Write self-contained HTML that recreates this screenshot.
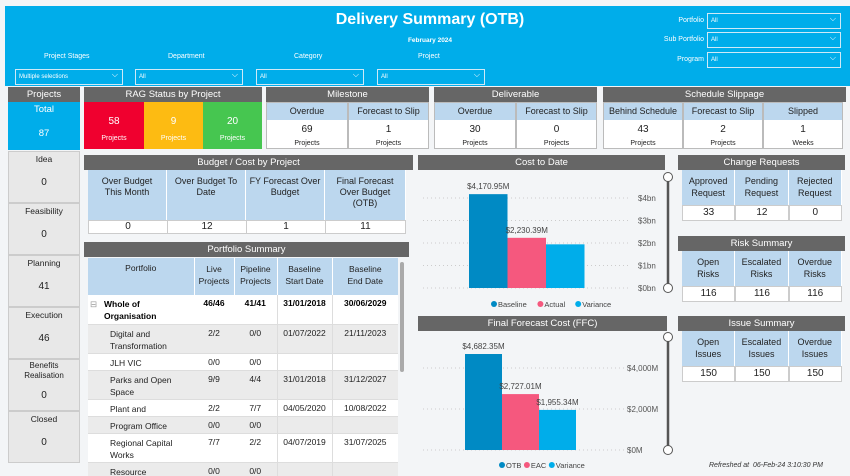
<!DOCTYPE html>
<html><head><meta charset="utf-8">
<style>
*{box-sizing:border-box;margin:0;padding:0}
body{width:850px;height:476px;background:#f3f5f7;font-family:"Liberation Sans",sans-serif;position:relative;overflow:hidden;color:#222}
.a{position:absolute}
.hd{position:absolute;background:#666;color:#fff;font-size:9.5px;text-align:center;line-height:15px}
.lb{background:#bcd7ee}
.cell{position:absolute;display:flex;align-items:center;justify-content:center;text-align:center;font-size:8.5px;line-height:11px;border-right:1px solid #fff}
.val{position:absolute;background:#fff;text-align:center;font-size:10px;border:1px solid #ccc}
.dd{position:absolute;border:1px solid #cfe9f7;background:#00adea;color:#fff;font-size:6px;padding-left:3px;line-height:14px}
.dd:after{content:"⌵";position:absolute;right:4px;top:-2px;font-size:8px}
.wl{position:absolute;color:#fff;font-size:7px}
.stage{position:absolute;left:8px;width:72px;background:#e8e8e8;border:1px solid #ccc;text-align:center;font-size:8.5px}
table{border-collapse:collapse;table-layout:fixed}
#ptab td{overflow:hidden}
</style></head><body>
<div class="a" style="left:5px;top:6px;width:845px;height:80px;background:#00adea"></div>
<div class="a" style="left:230px;top:11px;width:400px;text-align:center;color:#fff;font-weight:bold;font-size:16px;font-family:'Liberation Sans Narrow','Liberation Sans',sans-serif">Delivery Summary (OTB)</div>
<div class="a" style="left:330px;top:37px;width:200px;text-align:center;color:#fff;font-weight:bold;font-size:6.5px">February 2024</div>

<div class="wl" style="left:44px;top:53px">Project Stages</div>
<div class="wl" style="left:168px;top:53px">Department</div>
<div class="wl" style="left:294px;top:53px">Category</div>
<div class="wl" style="left:418px;top:53px">Project</div>
<div class="dd" style="left:15px;top:69px;width:108px;height:16px">Multiple selections</div>
<div class="dd" style="left:135px;top:69px;width:108px;height:16px">All</div>
<div class="dd" style="left:256px;top:69px;width:108px;height:16px">All</div>
<div class="dd" style="left:377px;top:69px;width:108px;height:16px">All</div>

<div class="wl" style="left:640px;top:17px;width:64px;text-align:right">Portfolio</div>
<div class="wl" style="left:640px;top:36px;width:64px;text-align:right">Sub Portfolio</div>
<div class="wl" style="left:640px;top:56px;width:64px;text-align:right">Program</div>
<div class="dd" style="left:707px;top:13px;width:134px;height:16px">All</div>
<div class="dd" style="left:707px;top:32px;width:134px;height:16px">All</div>
<div class="dd" style="left:707px;top:52px;width:134px;height:16px">All</div>

<!-- projects column -->
<div class="hd" style="left:8px;top:87px;width:72px">Projects</div>
<div class="a" style="left:8px;top:102px;width:72px;height:48px;background:#00adea;color:#fff;text-align:center;font-size:9.5px"><div style="margin-top:2px">Total</div><div style="margin-top:13px">87</div></div>
<div class="stage" style="top:151px;height:52px"><div style="margin-top:2px">Idea</div><div style="margin-top:13px;font-size:10px">0</div></div>
<div class="stage" style="top:203px;height:52px"><div style="margin-top:2px">Feasibility</div><div style="margin-top:13px;font-size:10px">0</div></div>
<div class="stage" style="top:255px;height:52px"><div style="margin-top:2px">Planning</div><div style="margin-top:13px;font-size:10px">41</div></div>
<div class="stage" style="top:307px;height:52px"><div style="margin-top:2px">Execution</div><div style="margin-top:13px;font-size:10px">46</div></div>
<div class="stage" style="top:359px;height:52px;font-size:8px"><div style="margin-top:1px;line-height:10px">Benefits<br>Realisation</div><div style="margin-top:9px;font-size:10px">0</div></div>
<div class="stage" style="top:411px;height:52px"><div style="margin-top:2px">Closed</div><div style="margin-top:13px;font-size:10px">0</div></div>

<!-- RAG -->
<div class="hd" style="left:84px;top:87px;width:178px">RAG Status by Project</div>
<div class="a" style="left:84px;top:102px;width:60px;height:47px;background:#f0002f;color:#fff;text-align:center;font-size:10px"><div style="margin-top:14px">58</div><div style="font-size:7px;margin-top:8px">Projects</div></div>
<div class="a" style="left:144px;top:102px;width:59px;height:47px;background:#fdbb12;color:#fff;text-align:center;font-size:10px"><div style="margin-top:14px">9</div><div style="font-size:7px;margin-top:8px">Projects</div></div>
<div class="a" style="left:203px;top:102px;width:59px;height:47px;background:#46c650;color:#fff;text-align:center;font-size:10px"><div style="margin-top:14px">20</div><div style="font-size:7px;margin-top:8px">Projects</div></div>

<!-- KPI groups -->
<div class="hd" style="left:266px;top:87px;width:163px">Milestone</div>
<div class="hd" style="left:434px;top:87px;width:163px">Deliverable</div>
<div class="hd" style="left:603px;top:87px;width:243px">Schedule Slippage</div>
<div id="kpis"></div>

<!-- Budget -->
<div class="hd" style="left:84px;top:155px;width:329px">Budget / Cost by Project</div>
<div class="a lb" style="left:88px;top:170px;width:318px;height:50px"></div>
<div class="cell" style="left:88px;top:170px;width:79px;height:50px;align-items:flex-start;padding-top:6px;font-size:9px">Over Budget<br>This Month</div>
<div class="cell" style="left:167px;top:170px;width:79px;height:50px;align-items:flex-start;padding-top:6px;font-size:9px">Over Budget To<br>Date</div>
<div class="cell" style="left:246px;top:170px;width:79px;height:50px;align-items:flex-start;padding-top:6px;font-size:9px">FY Forecast Over<br>Budget</div>
<div class="cell" style="left:325px;top:170px;width:81px;height:50px;align-items:flex-start;padding-top:6px;font-size:9px">Final Forecast<br>Over Budget<br>(OTB)</div>
<div class="val" style="left:88px;top:220px;width:318px;height:14px;display:flex;line-height:12px"><span style="width:79px;border-right:1px solid #ccc">0</span><span style="width:79px;border-right:1px solid #ccc">12</span><span style="width:79px;border-right:1px solid #ccc">1</span><span style="flex:1">11</span></div>

<!-- Portfolio summary -->
<div class="hd" style="left:84px;top:242px;width:325px">Portfolio Summary</div>
<div class="a" style="left:88px;top:258px;width:310px;height:218px;overflow:hidden;background:#fff">
<table style="width:310px;font-size:8.5px;text-align:center">
<colgroup><col style="width:106px"><col style="width:40px"><col style="width:43px"><col style="width:55px"><col style="width:66px"></colgroup>
<tr class="lb" style="height:37px;vertical-align:top"><td style="padding-top:5px;border-right:1px solid #fff">Portfolio</td><td style="padding-top:5px;border-right:1px solid #fff;line-height:12px">Live<br>Projects</td><td style="padding-top:5px;border-right:1px solid #fff;line-height:12px">Pipeline<br>Projects</td><td style="padding-top:5px;border-right:1px solid #fff;line-height:12px">Baseline<br>Start Date</td><td style="padding-top:5px;line-height:12px">Baseline<br>End Date</td></tr>
</table>
<table id="ptab" style="width:310px;font-size:8.5px;text-align:center"><colgroup><col style="width:106px"><col style="width:40px"><col style="width:43px"><col style="width:55px"><col style="width:66px"></colgroup></table>
</div>
<div class="a" style="left:400px;top:262px;width:4px;height:110px;background:#aaa;border-radius:2px"></div>

<!-- charts -->
<div class="hd" style="left:418px;top:155px;width:247px">Cost to Date</div>
<svg class="a" style="left:418px;top:170px" width="265" height="145" id="c1"></svg>
<div class="hd" style="left:418px;top:316px;width:249px">Final Forecast Cost (FFC)</div>
<svg class="a" style="left:418px;top:332px" width="265" height="144" id="c2"></svg>

<!-- right column -->
<div class="hd" style="left:678px;top:155px;width:167px">Change Requests</div>
<div class="hd" style="left:678px;top:236px;width:167px">Risk Summary</div>
<div class="hd" style="left:678px;top:316px;width:167px">Issue Summary</div>
<div id="rt"></div>
<div class="a" style="left:709px;top:462px;font-size:7px;font-style:italic;color:#333">Refreshed at&nbsp; 06-Feb-24 3:10:30 PM</div>

<script>
const kpiGroups=[
 {x:266,cols:[["Overdue","69","Projects"],["Forecast to Slip","1","Projects"]],w:[82,81]},
 {x:434,cols:[["Overdue","30","Projects"],["Forecast to Slip","0","Projects"]],w:[82,81]},
 {x:603,cols:[["Behind Schedule","43","Projects"],["Forecast to Slip","2","Projects"],["Slipped","1","Weeks"]],w:[80,80,80]}
];
const kp=document.getElementById('kpis');
kpiGroups.forEach((g,gi)=>{let x=g.x;g.cols.forEach((c,i)=>{
 const d=document.createElement('div');
 
 
 d.className='a';d.style.cssText=`left:${x}px;top:102px;width:${g.w[i]}px;height:47px;background:#fff;border:1px solid #bbb;text-align:center`;
 d.innerHTML=`<div class="lb" style="height:17px;font-size:9px;line-height:17px">${c[0]}</div><div style="font-size:10px;margin-top:4px">${c[1]}</div><div style="font-size:7px;margin-top:5px">${c[2]}</div>`;
 kp.appendChild(d);x+=g.w[i];});});

const rtabs=[[170,[["Approved<br>Request","33"],["Pending<br>Request","12"],["Rejected<br>Request","0"]]],
 [251,[["Open<br>Risks","116"],["Escalated<br>Risks","116"],["Overdue<br>Risks","116"]]],
 [331,[["Open<br>Issues","150"],["Escalated<br>Issues","150"],["Overdue<br>Issues","150"]]]];
const rt=document.getElementById('rt');
rtabs.forEach(t=>{t[1].forEach((c,i)=>{
 const d=document.createElement('div');
 
 
 d.className='a';d.style.cssText=`left:${682+i*53.3}px;top:${t[0]}px;width:53.3px;height:51px;text-align:center`;
 d.innerHTML=`<div class="lb" style="height:35px;font-size:9px;line-height:12px;padding-top:5px;border-right:1px solid #fff">${c[0]}</div><div style="height:16px;background:#fff;border:1px solid #ccc;font-size:10px;line-height:14px">${c[1]}</div>`;
 rt.appendChild(d);});});

const prow=[["Whole of<br>Organisation","46/46","41/41","31/01/2018","30/06/2029",29],
["Digital and<br>Transformation","2/2","0/0","01/07/2022","21/11/2023",29],
["JLH VIC","0/0","0/0","","",17],
["Parks and Open<br>Space","9/9","4/4","31/01/2018","31/12/2027",29],
["Plant and","2/2","7/7","04/05/2020","10/08/2022",17],
["Program Office","0/0","0/0","","",17],
["Regional Capital<br>Works","7/7","2/2","04/07/2019","31/07/2025",29],
["Resource","0/0","0/0","","",17]];
const pt=document.getElementById('ptab');
prow.forEach((r,i)=>{const tr=document.createElement('tr');
 
 
 tr.style.cssText=`height:${r[5]}px;vertical-align:top;background:${i%2?'#ebebeb':'#fff'};${i==0?'font-weight:bold;color:#000':''};border-bottom:1px solid #ddd`;
 const nm=i==0?`<span style="position:absolute;left:2px;color:#999;font-weight:normal">⊟</span>${r[0]}`:r[0];
 tr.innerHTML=`<td style="text-align:left;padding:3px 0 0 ${i==0?16:22}px;line-height:12px;position:relative">${nm}</td><td style="padding-top:3px">${r[1]}</td><td style="padding-top:3px">${r[2]}</td><td style="padding-top:3px;border-left:1px solid #ddd;border-right:1px solid #ddd">${r[3]}</td><td style="padding-top:3px">${r[4]}</td>`;
 pt.appendChild(tr);});

// charts
const ctdCategories=["Baseline","Actual","Variance"];
const ctdValues=[4170.95,2230.39,1940.56];
const ctdLabels=["$4,170.95M","$2,230.39M",""];
const ctdTicks=[0,1000,2000,3000,4000];
const ctdTickLabels=["$0bn","$1bn","$2bn","$3bn","$4bn"];
const ffcCategories=["OTB","EAC","Variance"];
const ffcValues=[4682.35,2727.01,1955.34];
const ffcLabels=["$4,682.35M","$2,727.01M","$1,955.34M"];
const ffcTicks=[0,2000,4000];
const ffcTickLabels=["$0M","$2,000M","$4,000M"];
const colors=["#008ac4","#f5587e","#00adea"];
const NS="http://www.w3.org/2000/svg";
function el(svg,tag,attrs,name,text){const e=document.createElementNS(NS,tag);for(const k in attrs)e.setAttribute(k,attrs[k]);
 
 
 if(text!==undefined)e.textContent=text;svg.appendChild(e);return e;}
function chart(id,cats,vals,labels,ticks,tlabels,base,pxPerUnit,x0,bw,tickX,legY,legX,sTop){
 const s=document.getElementById(id);
 const y=v=>base-v*pxPerUnit;
 ticks.forEach((t,i)=>{el(s,'line',{x1:5,x2:212,y1:y(t),y2:y(t),stroke:'#ccc','stroke-dasharray':'1,3'},'gridline');
  el(s,'text',{x:tickX,y:y(t)+3,'font-size':8,fill:'#555'},'y-tick-label',tlabels[i]);});
 vals.forEach((v,i)=>{const bx=x0+i*bw;
  el(s,'rect',{x:bx,y:y(v),width:bw,height:v*pxPerUnit,fill:colors[i]},'bar-'+cats[i].toLowerCase());
  if(labels[i])el(s,'text',{x:bx+bw/2,y:y(v)-5,'font-size':8,fill:'#444','text-anchor':'middle'},'bar-label',labels[i]);});
 let lx=legX;cats.forEach((c,i)=>{el(s,'circle',{cx:lx,cy:legY,r:3,fill:colors[i]},'legend-marker');
  el(s,'text',{x:lx+4,y:legY+3,'font-size':7.5,fill:'#444'},'legend-entry',c);lx+=c.length*4.3+12;});
 el(s,'line',{x1:250,x2:250,y1:sTop,y2:base,stroke:'#555','stroke-width':2.5},'range-slider-track');
 el(s,'circle',{cx:250,cy:sTop,r:4.5,fill:'#fff',stroke:'#555','stroke-width':1},'slider-handle-top');
 el(s,'circle',{cx:250,cy:base,r:4.5,fill:'#fff',stroke:'#555','stroke-width':1},'slider-handle-bottom');
}
chart('c1',ctdCategories,ctdValues,ctdLabels,ctdTicks,ctdTickLabels,118,0.0225,51,38.5,220,134,76,7);
chart('c2',ffcCategories,ffcValues,ffcLabels,ffcTicks,ffcTickLabels,118,0.0205,47,37,209,133,84,5);
</script>
</body></html>
